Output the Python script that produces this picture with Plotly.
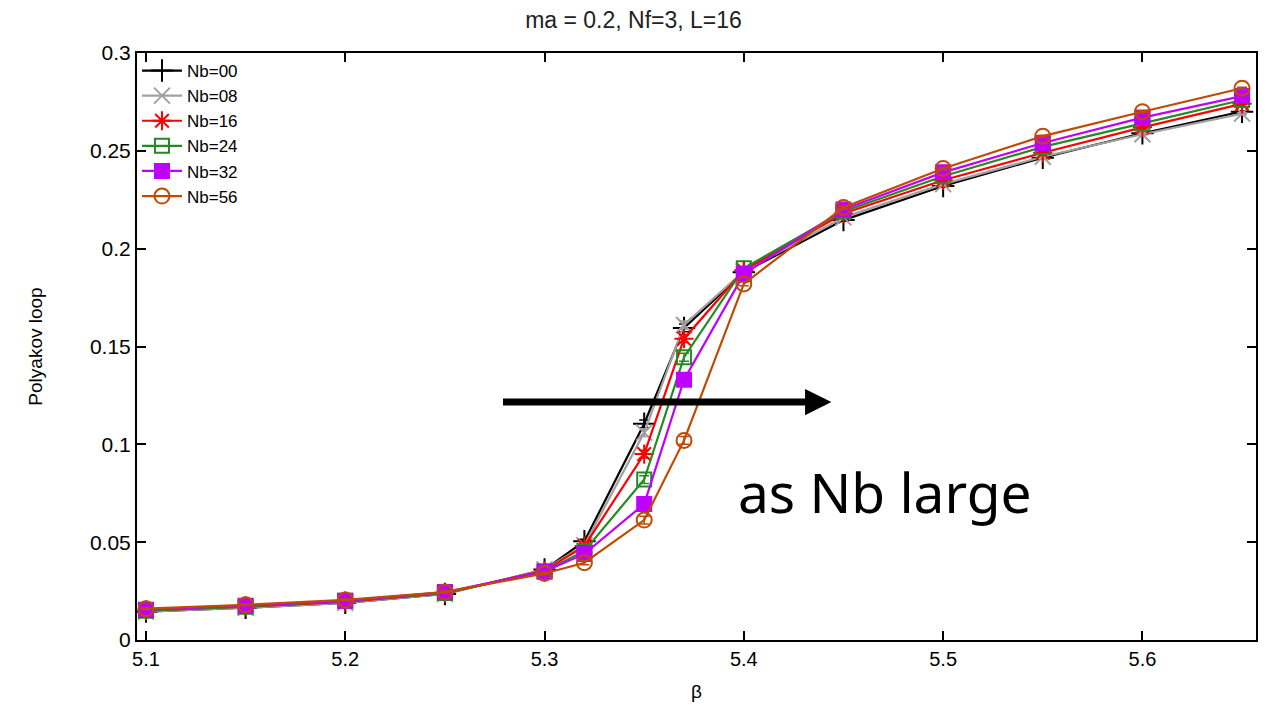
import plotly.graph_objects as go

beta = [5.10, 5.15, 5.20, 5.25, 5.30, 5.32, 5.35, 5.37, 5.40, 5.45, 5.50, 5.55, 5.60, 5.65]

nb00 = [0.0145, 0.0165, 0.0190, 0.0235, 0.0360, 0.0505, 0.1105, 0.1595, 0.1880, 0.2146, 0.2320, 0.2465, 0.2590, 0.2700]
nb08 = [0.0145, 0.0165, 0.0190, 0.0235, 0.0360, 0.0485, 0.1060, 0.1610, 0.1885, 0.2160, 0.2330, 0.2470, 0.2585, 0.2690]
nb16 = [0.0150, 0.0170, 0.0195, 0.0240, 0.0355, 0.0480, 0.0950, 0.1540, 0.1890, 0.2180, 0.2350, 0.2490, 0.2620, 0.2740]
nb24 = [0.0150, 0.0170, 0.0200, 0.0240, 0.0350, 0.0455, 0.0820, 0.1445, 0.1900, 0.2190, 0.2370, 0.2520, 0.2640, 0.2760]
nb32 = [0.0155, 0.0175, 0.0200, 0.0245, 0.0350, 0.0440, 0.0695, 0.1330, 0.1870, 0.2200, 0.2390, 0.2540, 0.2670, 0.2780]
nb56 = [0.0160, 0.0180, 0.0205, 0.0245, 0.0340, 0.0395, 0.0613, 0.1020, 0.1820, 0.2210, 0.2410, 0.2575, 0.2700, 0.2820]

err_small = [0.0004, 0.0004, 0.0004, 0.0005, 0.0006, 0.0010, 0.0020, 0.0020, 0.0010, 0.0006, 0.0005, 0.0005, 0.0005, 0.0005]

series_names = ["Nb=00", "Nb=08", "Nb=16", "Nb=24", "Nb=32", "Nb=56"]
series_vals = [nb00, nb08, nb16, nb24, nb32, nb56]
colors = ["#000000", "#a0a0a0", "#ff0000", "#228b22", "#c000ff", "#c04a00"]
symbols = ["cross-thin-open", "x-thin-open", "asterisk-open", "square-open", "square", "circle-open"]
sizes = [16, 16, 16, 14, 14, 15]

y_ticks = [0, 0.05, 0.1, 0.15, 0.2, 0.25, 0.3]
y_ticktext = ["0", "0.05", "0.1", "0.15", "0.2", "0.25", "0.3"]
x_ticks = [5.1, 5.2, 5.3, 5.4, 5.5, 5.6]
x_ticktext = ["5.1", "5.2", "5.3", "5.4", "5.5", "5.6"]

fig = go.Figure()
for name, vals, c, s, sz in zip(series_names, series_vals, colors, symbols, sizes):
    fig.add_trace(go.Scatter(
        x=beta, y=vals, name=name, mode="lines+markers",
        line=dict(color=c, width=2.2),
        marker=dict(symbol=s, size=sz, color=c, line=dict(color=c, width=2)),
        error_y=dict(type="data", array=err_small, color=c, thickness=1.5, width=5),
    ))

font_family = "Liberation Sans, Arial, sans-serif"

fig.add_annotation(
    x=5.4439, y=0.1216, ax=5.2784, ay=0.1216,
    xref="x", yref="y", axref="x", ayref="y",
    showarrow=True, arrowhead=2, arrowsize=0.75, arrowwidth=7, arrowcolor="#000000",
    text="",
)
fig.add_annotation(
    x=5.4704, y=0.0757, xref="x", yref="y", showarrow=False,
    text="as Nb large", font=dict(family="Noto Sans, sans-serif", size=55, color="#000000"),
)

fig.update_layout(
    width=1267, height=705,
    margin=dict(l=137, r=11, t=53, b=65, autoexpand=False),
    paper_bgcolor="white", plot_bgcolor="white",
    font=dict(family=font_family, size=16, color="#000000"),
    title=dict(text="ma = 0.2, Nf=3, L=16", x=0.5, xanchor="center", y=0.972, yanchor="middle",
               font=dict(family=font_family, size=23, color="#222222")),
    showlegend=True,
    legend=dict(x=0.0, y=1.0, xanchor="left", yanchor="top", bgcolor="rgba(0,0,0,0)",
                font=dict(family=font_family, size=17), tracegroupgap=0, itemwidth=40),
    xaxis=dict(range=[5.0955, 5.657], tickvals=x_ticks, ticktext=x_ticktext,
               ticks="inside", ticklen=9, tickwidth=1.5, tickcolor="#000000",
               showline=True, linewidth=2, linecolor="#000000", mirror="ticks",
               showgrid=False, zeroline=False, automargin=False,
               title=dict(text="β", font=dict(family=font_family, size=19), standoff=16),
               tickfont=dict(family=font_family, size=20)),
    yaxis=dict(range=[0, 0.3], tickvals=y_ticks, ticktext=y_ticktext,
               ticks="inside", ticklen=9, tickwidth=1.5, tickcolor="#000000",
               showline=True, linewidth=2, linecolor="#000000", mirror="ticks",
               showgrid=False, zeroline=False, automargin=False,
               title=dict(text="Polyakov loop", font=dict(family=font_family, size=19), standoff=42),
               tickfont=dict(family=font_family, size=21)),
)

fig.write_html("out.html")
